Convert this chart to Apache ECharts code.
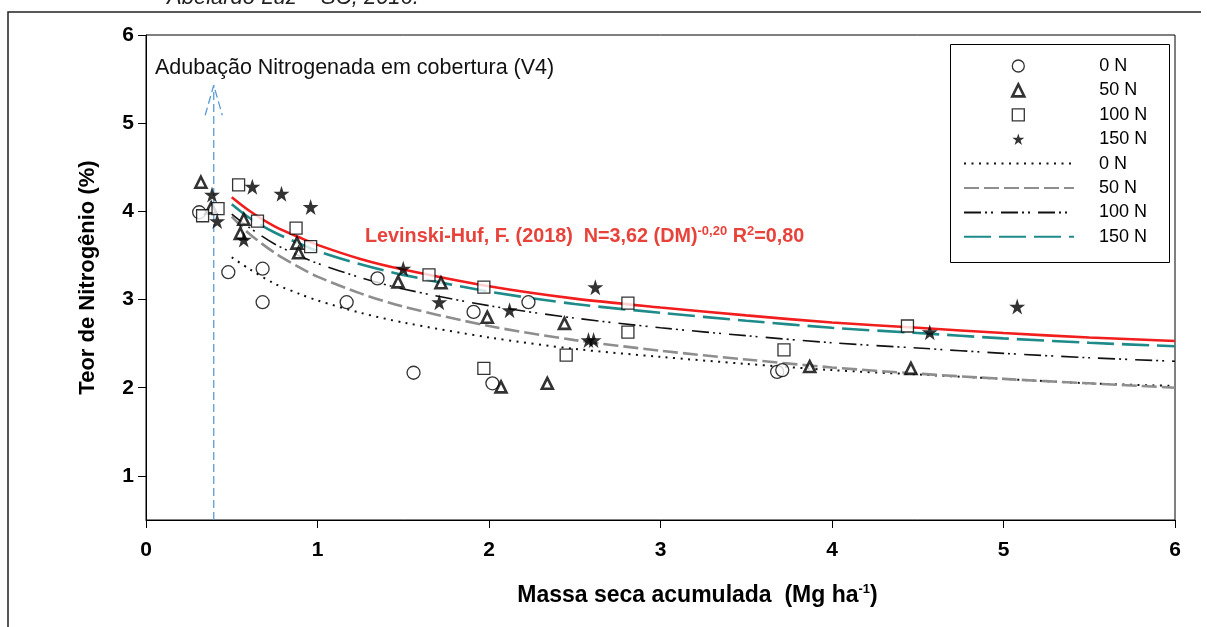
<!DOCTYPE html>
<html>
<head>
<meta charset="utf-8">
<script src="https://cdn.jsdelivr.net/npm/echarts@6/dist/echarts.min.js"></script>
<style>
  html, body { margin: 0; padding: 0; background: #fff; }
  #chart { width: 1207px; height: 627px; }
</style>
</head>
<body>
<div id="chart"></div>
<script>
// Tick values
const xTicks = [0, 1, 2, 3, 4, 5, 6];
const yTicks = [1, 2, 3, 4, 5, 6];

// Observed N content (%) vs accumulated dry mass (Mg/ha), by N rate
const obs0N = [[0.31, 3.99], [0.48, 3.31], [0.68, 3.35], [0.68, 2.97], [1.17, 2.97], [1.35, 3.24],
  [1.56, 2.17], [1.91, 2.86], [2.02, 2.05], [2.23, 2.97], [3.68, 2.18], [3.71, 2.20]];
const obs50N = [[0.32, 4.33], [0.38, 4.04], [0.57, 3.91], [0.55, 3.75], [0.88, 3.64], [0.89, 3.53],
  [1.47, 3.20], [1.72, 3.19], [1.99, 2.80], [2.07, 2.01], [2.34, 2.05], [2.44, 2.73], [3.87, 2.24], [4.46, 2.22]];
const obs100N = [[0.33, 3.95], [0.42, 4.03], [0.54, 4.30], [0.65, 3.89], [0.875, 3.81], [0.96, 3.60],
  [1.65, 3.28], [1.97, 3.14], [1.97, 2.22], [2.45, 2.37], [2.81, 2.96], [2.81, 2.63], [3.72, 2.43], [4.44, 2.70]];
const obs150N = [[0.385, 4.19], [0.415, 3.89], [0.57, 3.68], [0.62, 4.28], [0.79, 4.20], [0.96, 4.05],
  [1.50, 3.35], [1.71, 2.97], [2.12, 2.88], [2.58, 2.54], [2.61, 2.54], [2.62, 3.14], [4.57, 2.63], [5.08, 2.92]];

// Fitted dilution curves, sampled along dry mass
const fitX    = [0.5, 0.6, 0.75, 0.9, 1, 1.25, 1.5, 2, 2.5, 3, 3.5, 4, 4.5, 5, 5.5, 6];
const fit0N   = [3.48, 3.35, 3.18, 3.06, 2.99, 2.85, 2.74, 2.57, 2.44, 2.35, 2.27, 2.20, 2.15, 2.10, 2.05, 2.02];
const fit50N  = [3.94, 3.75, 3.53, 3.36, 3.26, 3.07, 2.92, 2.70, 2.54, 2.42, 2.32, 2.23, 2.16, 2.10, 2.05, 2.00];
const fit100N = [3.97, 3.82, 3.63, 3.49, 3.41, 3.25, 3.12, 2.93, 2.79, 2.68, 2.59, 2.51, 2.45, 2.39, 2.34, 2.30];
const fit150N = [4.08, 3.93, 3.76, 3.63, 3.55, 3.40, 3.28, 3.09, 2.95, 2.85, 2.76, 2.68, 2.62, 2.56, 2.51, 2.47];
const fitRef  = [4.16, 4.01, 3.83, 3.70, 3.62, 3.46, 3.34, 3.15, 3.01, 2.91, 2.82, 2.74, 2.68, 2.62, 2.57, 2.53];

// Top-dressing marker (V4)
const topDressX = 0.395;
const topDressBase = 0.5;
const topDressTip = 5.43;
const topDressHeadY = 5.09;
const topDressHalf = 0.05;

const obsNames = ['0 N', '50 N', '100 N', '150 N'];
const fitNames = ['ajuste 0 N', 'ajuste 50 N', 'ajuste 100 N', 'ajuste 150 N'];

const pairs = ys => fitX.map((x, i) => [x, ys[i]]);
const starPath = 'path://M50,0 L61.2,34.5 L97.6,34.5 L68.2,55.9 L79.4,90.5 L50,69.1 L20.6,90.5 L31.8,55.9 L2.4,34.5 L38.8,34.5 Z';
const FONT = 'Liberation Sans';
const RED_TEXT = '#e8433b';
const legendText = { fontFamily: FONT, fontSize: 18, color: '#000', lineHeight: 18 };

const chart = echarts.init(document.getElementById('chart'), null, { renderer: 'canvas' });

chart.setOption({
  animation: false,
  backgroundColor: '#fff',
  grid: { left: 146, right: 32, top: 35, bottom: 107, show: true, borderColor: '#000', borderWidth: 1, backgroundColor: 'transparent' },
  xAxis: {
    type: 'value', min: 0, max: 6, interval: 1,
    axisLine: { lineStyle: { color: '#000', width: 1 } },
    axisTick: { show: true, inside: false, length: 8, lineStyle: { color: '#000' } },
    axisLabel: { fontFamily: FONT, fontWeight: 'bold', fontSize: 21, color: '#000', margin: 20 },
    splitLine: { show: false },
    name: 'Massa seca acumulada  (Mg ha{sup|-1})',
    nameLocation: 'middle', nameGap: 63,
    nameTextStyle: {
      fontFamily: FONT, fontWeight: 'bold', fontSize: 23, color: '#000', padding: [0, 0, 0, 74],
      rich: { sup: { fontFamily: FONT, fontWeight: 'bold', fontSize: 13, color: '#000', padding: [0, 0, 12, 0] } }
    }
  },
  yAxis: {
    type: 'value', min: 0.5, max: 6,
    axisLine: { show: true, lineStyle: { color: '#000', width: 1 } },
    axisTick: { show: true, inside: false, length: 8, customValues: yTicks, lineStyle: { color: '#000' } },
    axisLabel: { fontFamily: FONT, fontWeight: 'bold', fontSize: 21, color: '#000', margin: 12, customValues: yTicks },
    splitLine: { show: false },
    name: 'Teor de Nitrogênio (%)',
    nameLocation: 'middle', nameGap: 47,
    nameTextStyle: { fontFamily: FONT, fontWeight: 'bold', fontSize: 22, color: '#000' }
  },
  legend: [
    {
      orient: 'vertical', left: 1011, top: 57, padding: 0,
      itemWidth: 12, itemHeight: 12, itemGap: 6.4, selectedMode: false,
      data: [
        { name: obsNames[0], itemStyle: { borderWidth: 1.3 } },
        { name: obsNames[1], itemStyle: { borderWidth: 2.6 } },
        { name: obsNames[2], itemStyle: { borderWidth: 1.3 } },
        { name: obsNames[3] }
      ],
      textStyle: Object.assign({ padding: [0, 0, 0, 70] }, legendText)
    },
    {
      orient: 'vertical', left: 963, top: 154.6, padding: 0,
      itemWidth: 110, itemHeight: 12, itemGap: 6.4, selectedMode: false,
      data: fitNames,
      formatter: n => n.replace('ajuste ', ''),
      itemStyle: { color: 'transparent', borderColor: 'transparent', borderWidth: 0, opacity: 0 },
      textStyle: Object.assign({ padding: [0, 0, 0, 20] }, legendText)
    }
  ],
  graphic: [
    { type: 'polyline', silent: true, shape: { points: [[8, 627], [8, 12], [1201, 12]] },
      style: { stroke: '#222', lineWidth: 1.5, fill: null } },
    { type: 'rect', silent: true, z: 1, shape: { x: 950.5, y: 44.5, width: 219, height: 218 },
      style: { stroke: '#000', lineWidth: 1, fill: '#fff' } },
    { type: 'text', silent: true, x: 167, y: 9,
      style: { text: 'Abelardo Luz – SC, 2016.', font: 'italic 22px "Liberation Sans"', fill: '#222', textVerticalAlign: 'bottom' } },
    { type: 'text', silent: true, x: 155, y: 68,
      style: { text: 'Adubação Nitrogenada em cobertura (V4)', font: '21.5px "Liberation Sans"', fill: '#111', textVerticalAlign: 'middle' } },
    { type: 'text', silent: true, x: 365, y: 237,
      style: {
        text: '{m|Levinski-Huf, F. (2018)  N=3,62 (DM)}{s|-0,20}{m| R}{s|2}{m|=0,80}',
        textVerticalAlign: 'middle',
        fill: RED_TEXT,
        rich: {
          m: { fontFamily: FONT, fontWeight: 'bold', fontSize: 19.8, fill: RED_TEXT, lineHeight: 22 },
          s: { fontFamily: FONT, fontWeight: 'bold', fontSize: 13, fill: RED_TEXT, lineHeight: 22, padding: [0, 0, 12, 0] }
        }
      } }
  ],
  series: [
    { name: 'Levinski-Huf', type: 'line', data: pairs(fitRef), symbol: 'none', smooth: 0.3, z: 3,
      lineStyle: { color: '#f21d1d', width: 2.6 } },
    { name: 'ajuste 0 N', type: 'line', data: pairs(fit0N), symbol: 'none', smooth: 0.3, z: 2,
      lineStyle: { color: '#111', width: 2, type: [2, 5.5] }, itemStyle: { color: '#111' } },
    { name: 'ajuste 50 N', type: 'line', data: pairs(fit50N), symbol: 'none', smooth: 0.3, z: 2,
      lineStyle: { color: '#8e8e8e', width: 2.6, type: [15, 5] }, itemStyle: { color: '#8e8e8e' } },
    { name: 'ajuste 100 N', type: 'line', data: pairs(fit100N), symbol: 'none', smooth: 0.3, z: 2,
      lineStyle: { color: '#111', width: 1.6, type: [17, 4, 2, 4, 2, 8] }, itemStyle: { color: '#111' } },
    { name: 'ajuste 150 N', type: 'line', data: pairs(fit150N), symbol: 'none', smooth: 0.3, z: 2,
      lineStyle: { color: '#1f8a8a', width: 2.6, type: [27, 8] }, itemStyle: { color: '#1f8a8a' } },
    { name: 'seta', type: 'line', symbol: 'none', z: 1,
      data: [[topDressX, topDressBase], [topDressX, topDressTip]],
      lineStyle: { color: '#5a9bd5', width: 1.3, type: [8, 4] } },
    { name: 'ponta', type: 'line', symbol: 'none', z: 1,
      data: [[topDressX - topDressHalf, topDressHeadY], [topDressX, topDressTip], [topDressX + topDressHalf, topDressHeadY]],
      lineStyle: { color: '#5a9bd5', width: 1.3, type: [8, 4] } },
    { name: '0 N', type: 'scatter', data: obs0N, symbol: 'circle', symbolSize: 13, z: 5,
      itemStyle: { color: '#fff', borderColor: '#000', borderWidth: 1.3 } },
    { name: '50 N', type: 'scatter', data: obs50N, symbol: 'triangle', symbolSize: 11, z: 5,
      itemStyle: { color: '#fff', borderColor: '#000', borderWidth: 2.6 } },
    { name: '100 N', type: 'scatter', data: obs100N, symbol: 'rect', symbolSize: 12, z: 5,
      itemStyle: { color: '#fff', borderColor: '#000', borderWidth: 1.3 } },
    { name: '150 N', type: 'scatter', data: obs150N, symbol: starPath, symbolSize: 16, z: 5,
      itemStyle: { color: '#000' } }
  ]
});
</script>
</body>
</html>
